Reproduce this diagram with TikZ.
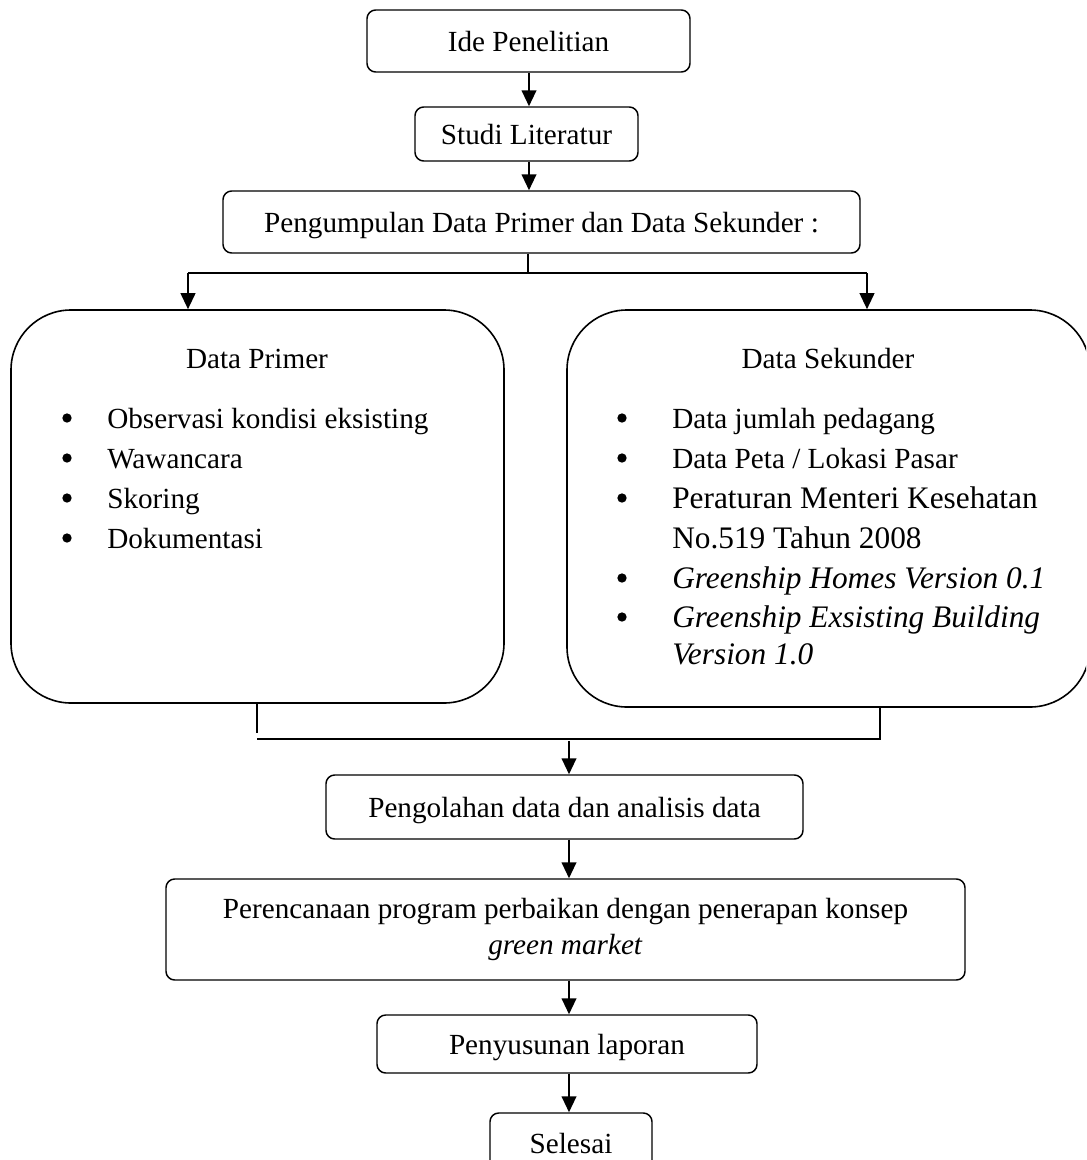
\documentclass[tikz,border=0pt]{standalone}
\usepackage{fontspec}
\setmainfont{Liberation Serif}
\usetikzlibrary{arrows.meta}
\newcommand\fnormal{\fontsize{21.9}{26}\selectfont}
\newcommand\fbig{\fontsize{23.5}{28}\selectfont}
\begin{document}
\begin{tikzpicture}[x=0.75pt,y=-0.75pt,
  box/.style={draw, line width=1.1pt, rounded corners=6.5pt, inner sep=0pt,
    text height=16.4pt, text depth=1.1pt, font=\fnormal},
  bigbox/.style={draw, line width=1.2pt, rounded corners=45pt, inner sep=0pt},
  tc/.style={inner sep=0pt, anchor=base, font=\fnormal},
  tl/.style={inner sep=0pt, anchor=base west, font=\fnormal},
  tlb/.style={inner sep=0pt, anchor=base west, font=\fbig},
  bul/.style={circle, fill, inner sep=0pt, minimum size=7pt},
  arr/.style={line width=1.5pt, -{Triangle[length=12pt,width=11pt]}},
  conn/.style={line width=0.8pt}]
\useasboundingbox (0,0) rectangle (1086,1160);
\fill[white] (0,0) rectangle (1086,1160);
\clip (0,0) rectangle (1086,1160);

% boxes
\node[box, minimum width=323*0.75pt, minimum height=62*0.75pt] (ide) at (528.5,41) {Ide Penelitian};
\node[box, minimum width=223*0.75pt, minimum height=54*0.75pt] (studi) at (526.5,134) {Studi Literatur};
\node[box, minimum width=637*0.75pt, minimum height=62*0.75pt] (kumpul) at (541.5,222) {Pengumpulan Data Primer dan Data Sekunder :};
\node[bigbox, minimum width=493*0.75pt, minimum height=393*0.75pt] (primer) at (257.5,506.5) {};
\node[bigbox, minimum width=523*0.75pt, minimum height=397*0.75pt] (sekunder) at (828.5,508.5) {};
\node[box, minimum width=477*0.75pt, minimum height=64*0.75pt] (olah) at (564.5,807) {Pengolahan data dan analisis data};
\node[draw, line width=1.1pt, rounded corners=6.5pt, inner sep=0pt, align=center,
  font=\fontsize{21.9}{27}\selectfont, minimum width=799*0.75pt, minimum height=101*0.75pt]
  (renc) at (565.5,929.5) {Perencanaan program perbaikan dengan penerapan konsep\\ \textit{green market}};
\node[box, minimum width=380*0.75pt, minimum height=58*0.75pt] (susun) at (567,1044) {Penyusunan laporan};
\node[box, minimum width=162*0.75pt, minimum height=60*0.75pt] (selesai) at (571,1143) {Selesai};

% Data Primer content
\node[tc] (ptitle) at (257,368) {Data Primer};
\node[bul] (pb1) at (67,418) {};
\node[bul] (pb2) at (67,458) {};
\node[bul] (pb3) at (67,498) {};
\node[bul] (pb4) at (67,538) {};
\node[tl] (p1) at (107,428) {Observasi kondisi eksisting};
\node[tl] (p2) at (107,468) {Wawancara};
\node[tl] (p3) at (107,508) {Skoring};
\node[tl] (p4) at (107,548) {Dokumentasi};

% Data Sekunder content
\node[tc] (stitle) at (828,368) {Data Sekunder};
\node[bul] (sb1) at (622,418) {};
\node[bul] (sb2) at (622,458) {};
\node[bul] (sb3) at (622,498) {};
\node[bul] (sb4) at (622,578) {};
\node[bul] (sb5) at (622,617) {};
\node[tl] (s1) at (672,428) {Data jumlah pedagang};
\node[tl] (s2) at (672,468) {Data Peta / Lokasi Pasar};
\node[tlb] (s3) at (672,508) {Peraturan Menteri Kesehatan};
\node[tlb] (s3b) at (672,548) {No.519 Tahun 2008};
\node[tlb] (s4) at (672,588) {\itshape Greenship Homes Version 0.1};
\node[tlb] (s5) at (672,627) {\itshape Greenship Exsisting Building};
\node[tlb] (s5b) at (672,664) {\itshape Version 1.0};

% connectors top
\coordinate (ta) at (529,76);
\draw[arr] (ta |- ide.south) -- (ta |- studi.north);
\draw[arr] (ta |- studi.south) -- (ta |- kumpul.north);
\coordinate (jt) at (528,273);
\coordinate (jl) at (188,273);
\coordinate (jr) at (867,273);
\draw[conn] (jt |- kumpul.south) -- (jt);
\draw[conn] (jl) -- (jr);
\draw[arr] (jl) -- (jl |- primer.north);
\draw[arr] (jr) -- (jr |- sekunder.north);

% connectors bottom
\coordinate (bl) at (257,733);
\coordinate (bh1) at (257,739);
\coordinate (bh2) at (880,739);
\coordinate (ba) at (569,741);
\draw[conn] (bl |- primer.south) -- (bl);
\draw[conn] (bh1) -- (bh2) -- (bh2 |- sekunder.south);
\draw[arr] (ba) -- (ba |- olah.north);
\draw[arr] (ba |- olah.south) -- (ba |- renc.north);
\draw[arr] (ba |- renc.south) -- (ba |- susun.north);
\draw[arr] (ba |- susun.south) -- (ba |- selesai.north);
\end{tikzpicture}
\end{document}
